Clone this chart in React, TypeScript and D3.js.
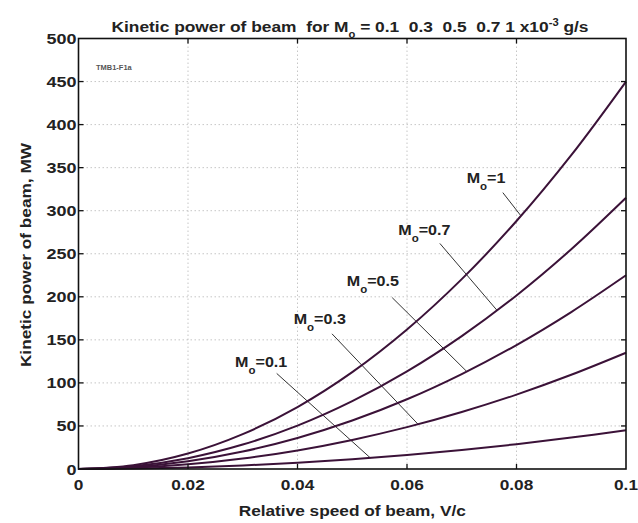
import React from "react";
import * as d3 from "d3";

const speeds = [0, 0.01, 0.02, 0.03, 0.04, 0.05, 0.06, 0.07, 0.08, 0.09, 0.1];
const power1 = [0, 4.5, 18, 40.5, 72, 112.5, 162, 220.5, 288, 364.5, 450];
const power07 = [0, 3.2, 12.6, 28.4, 50.4, 78.8, 113.4, 154.4, 201.6, 255.2, 315];
const power05 = [0, 2.3, 9, 20.3, 36, 56.3, 81, 110.3, 144, 182.3, 225];
const power03 = [0, 1.4, 5.4, 12.2, 21.6, 33.8, 48.6, 66.2, 86.4, 109.4, 135];
const power01 = [0, 0.5, 1.8, 4.1, 7.2, 11.3, 16.2, 22.1, 28.8, 36.5, 45];
const seriesValues = [power1, power07, power05, power03, power01];

const xTicks = [0, 0.02, 0.04, 0.06, 0.08, 0.1];
const xTickLabels = ["0", "0.02", "0.04", "0.06", "0.08", "0.1"];
const yTicks = [0, 50, 100, 150, 200, 250, 300, 350, 400, 450, 500];

const labelNames = ["1", "0.7", "0.5", "0.3", "0.1"];
const labelAt = [
  [0.0709, 332],
  [0.0584, 272],
  [0.049, 212],
  [0.0393, 168],
  [0.0286, 118],
];
const leaderStart = [
  [0.0775, 321],
  [0.066, 262],
  [0.0573, 199],
  [0.0463, 157],
  [0.0362, 111],
];
const leaderEndX = [0.0808, 0.0764, 0.0709, 0.062, 0.0533];

const SX = 1.15;

function SText(props: { x: number; y: number; anchor?: string; size: number; sx?: number; children: React.ReactNode; fill?: string }) {
  const { x, y, anchor, size, sx, children, fill } = props;
  return (
    <g transform={`translate(${x},${y}) scale(${sx ?? SX},1)`}>
      <text x={0} y={0} textAnchor={anchor || "start"} fontSize={size} fontWeight="bold" fill={fill || "#222"} style={{ whiteSpace: "pre" }}>
        {children}
      </text>
    </g>
  );
}

export default function App() {
  const W = 638, H = 523;
  const left = 78.5, right = 626, top = 38.5, bottom = 469;
  const x = d3.scaleLinear().domain([0, 0.1]).range([left, right]);
  const y = d3.scaleLinear().domain([0, 500]).range([bottom, top]);
  const line = d3
    .line<number>()
    .x((_, i) => x(speeds[i]))
    .y((d) => y(d))
    .curve(d3.curveCatmullRom);
  const font = "'Liberation Sans', Arial, sans-serif";
  const interp = (vals: number[], xv: number) => d3.scaleLinear().domain(speeds).range(vals)(xv);
  return (
    <svg width={W} height={H} style={{ position: "absolute", left: 0, top: 0, background: "#fff" }} fontFamily={font}>
      <rect x={0} y={0} width={W} height={H} fill="#fff" />
      {xTicks.slice(1, -1).map((t) => (
        <line key={"gx" + t} x1={x(t)} x2={x(t)} y1={top} y2={bottom} stroke="#b8b8b8" strokeWidth={0.8} strokeDasharray="1.5,2.5" />
      ))}
      {yTicks.slice(1, -1).map((t) => (
        <line key={"gy" + t} x1={left} x2={right} y1={y(t)} y2={y(t)} stroke="#b8b8b8" strokeWidth={0.8} strokeDasharray="1.5,2.5" />
      ))}
      {labelNames.map((n, i) => {
        const ex = leaderEndX[i];
        const ey = interp(seriesValues[i], ex);
        return (
          <line key={"ld" + n} x1={x(leaderStart[i][0])} y1={y(leaderStart[i][1])} x2={x(ex)} y2={y(ey)} stroke="#333" strokeWidth={1} />
        );
      })}
      {seriesValues.map((vals, i) => (
        <path key={"c" + i} d={line(vals) || ""} fill="none" stroke="#3b1238" strokeWidth={2} />
      ))}
      {labelNames.map((n, i) => (
        <SText key={"lb" + n} x={x(labelAt[i][0])} y={y(labelAt[i][1])} size={14}>
          M
          <tspan dy={7} fontSize={10}>o</tspan>
          <tspan dy={-7}>={n}</tspan>
        </SText>
      ))}
      <rect x={left} y={top} width={right - left} height={bottom - top} fill="none" stroke="#111" strokeWidth={1.6} />
      {xTicks.slice(1, -1).map((t) => (
        <g key={"tx" + t}>
          <line x1={x(t)} x2={x(t)} y1={bottom} y2={bottom - 5} stroke="#111" strokeWidth={1.3} />
          <line x1={x(t)} x2={x(t)} y1={top} y2={top + 5} stroke="#111" strokeWidth={1.3} />
        </g>
      ))}
      {yTicks.slice(1, -1).map((t) => (
        <g key={"ty" + t}>
          <line x1={left} x2={left + 5} y1={y(t)} y2={y(t)} stroke="#111" strokeWidth={1.3} />
          <line x1={right} x2={right - 5} y1={y(t)} y2={y(t)} stroke="#111" strokeWidth={1.3} />
        </g>
      ))}
      {xTicks.map((t, i) => (
        <SText key={"xl" + t} x={x(t)} y={bottom + 21} anchor="middle" size={15}>
          {xTickLabels[i]}
        </SText>
      ))}
      {yTicks.map((t) => (
        <SText key={"yl" + t} x={left - 2} y={y(t) + 5.5} anchor="end" size={15} sx={1.2}>
          {String(t)}
        </SText>
      ))}
      <SText x={(left + right) / 2} y={516} anchor="middle" size={15}>
        Relative speed of beam, V/c
      </SText>
      <g transform={`translate(31, 255) rotate(-90)`}>
        <SText x={0} y={0} anchor="middle" size={15}>
          Kinetic power of beam, MW
        </SText>
      </g>
      <SText x={350} y={32} anchor="middle" size={15.5} sx={1.12}>
        {"Kinetic power of beam  for M"}
        <tspan dy={6} fontSize={10}>o</tspan>
        <tspan dy={-6}>{" = 0.1  0.3  0.5  0.7 1 x10"}</tspan>
        <tspan dy={-6} fontSize={10}>-3</tspan>
        <tspan dy={6}>{" g/s"}</tspan>
      </SText>
      <SText x={96} y={70} size={6.5} fill="#555">TMB1-F1a</SText>
    </svg>
  );
}
